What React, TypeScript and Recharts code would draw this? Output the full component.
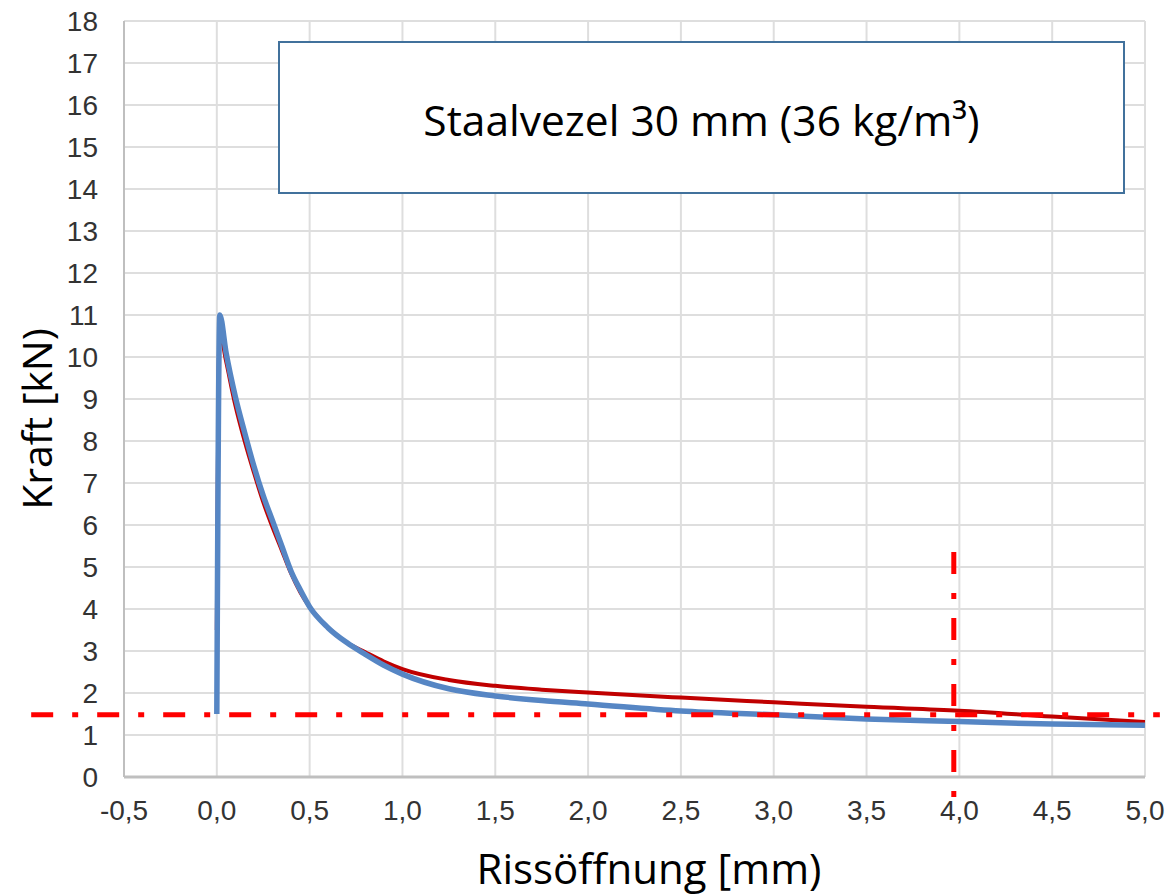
import {
  CartesianGrid,
  Line,
  LineChart,
  ReferenceLine,
  XAxis,
  YAxis,
} from 'recharts'

// red curve (lower peak, higher tail)
const redX = [0.0, 0.015, 0.05, 0.1, 0.15, 0.2, 0.25, 0.3, 0.35, 0.4, 0.45, 0.5, 0.6, 0.7, 0.8, 0.9, 1.0, 1.25, 1.5, 1.75, 2.0, 2.5, 3.0, 3.5, 4.0, 4.5, 5.0]
const redY = [3.5, 10.6, 9.9, 8.85, 8.0, 7.25, 6.55, 5.95, 5.4, 4.85, 4.4, 4.05, 3.55, 3.2, 2.97, 2.75, 2.57, 2.31, 2.17, 2.08, 2.01, 1.89, 1.78, 1.67, 1.58, 1.44, 1.31]

// blue curve
const blueX = [0.0, 0.016, 0.05, 0.1, 0.15, 0.2, 0.25, 0.3, 0.35, 0.4, 0.45, 0.5, 0.6, 0.7, 0.8, 0.9, 1.0, 1.25, 1.5, 1.75, 2.0, 2.5, 3.0, 3.5, 4.0, 4.5, 5.0]
const blueY = [1.5, 11.0, 10.1, 9.05, 8.2, 7.4, 6.7, 6.1, 5.5, 4.9, 4.45, 4.05, 3.55, 3.2, 2.92, 2.66, 2.45, 2.1, 1.93, 1.82, 1.74, 1.57, 1.48, 1.38, 1.32, 1.26, 1.23]

const xTicks = [-0.5, 0, 0.5, 1, 1.5, 2, 2.5, 3, 3.5, 4, 4.5, 5]
const yTicks = [0, 1, 2, 3, 4, 5, 6, 7, 8, 9, 10, 11, 12, 13, 14, 15, 16, 17, 18]

// dash-dot limit lines
const limitForce = 1.48
const limitForceFrom = -1.0
const limitForceTo = 5.08
const limitOpening = 3.97
const limitOpeningTop = 5.36
const limitOpeningBottom = -0.55

const redData = redX.map((x, i) => ({ x, y: redY[i] }))
const blueData = blueX.map((x, i) => ({ x, y: blueY[i] }))

const fmt = (v: number) => v.toFixed(1).replace('.', ',')

const tickStyle = { fontFamily: '"Liberation Sans", Arial, sans-serif', fontSize: 28, fill: '#333' }
const titleFont = '"Open Sans", sans-serif'
const dashDot = '22 19 6 19'

export default function App() {
  return (
    <div style={{ position: 'absolute', left: 0, top: 0, width: 1171, height: 896, background: '#fff' }}>
      <LineChart
        width={1171}
        height={896}
        margin={{ top: 21, right: 26, bottom: 59, left: 0 }}
      >
        <CartesianGrid stroke="#dedede" strokeWidth={2} />
        <XAxis
          dataKey="x"
          type="number"
          domain={[-0.5, 5]}
          ticks={xTicks}
          tickFormatter={fmt}
          height={60}
          stroke="#bfbfbf"
          strokeWidth={3}
          tickLine={false}
          tickSize={0}
          tickMargin={23}
          tick={tickStyle}
          allowDataOverflow
        />
        <YAxis
          type="number"
          domain={[0, 18]}
          ticks={yTicks}
          width={124}
          stroke="#bfbfbf"
          strokeWidth={2}
          tickLine={false}
          tickSize={0}
          tickMargin={26}
          tick={tickStyle}
          interval={0}
        />
        <Line
          data={redData}
          dataKey="y"
          type="monotone"
          stroke="#c00000"
          strokeWidth={4}
          dot={false}
          isAnimationActive={false}
        />
        <Line
          data={blueData}
          dataKey="y"
          type="monotone"
          stroke="#5686c4"
          strokeWidth={5.5}
          dot={false}
          isAnimationActive={false}
        />
        <ReferenceLine
          segment={[{ x: limitForceFrom, y: limitForce }, { x: limitForceTo, y: limitForce }]}
          stroke="#ff0000"
          strokeWidth={5}
          strokeDasharray={dashDot}
          ifOverflow="visible"
        />
        <ReferenceLine
          segment={[{ x: limitOpening, y: limitOpeningTop }, { x: limitOpening, y: limitOpeningBottom }]}
          stroke="#ff0000"
          strokeWidth={5}
          strokeDasharray={dashDot}
          ifOverflow="visible"
        />
      </LineChart>

      <div
        style={{
          position: 'absolute',
          left: 278,
          top: 41,
          width: 847,
          height: 153,
          boxSizing: 'border-box',
          border: '2px solid #41719c',
          background: '#fff',
          display: 'flex',
          alignItems: 'center',
          justifyContent: 'center',
          paddingTop: 4,
          fontFamily: titleFont,
          fontSize: 42.5,
          color: '#000',
        }}
      >
        Staalvezel 30 mm (36 kg/m³)
      </div>

      <div
        style={{
          position: 'absolute',
          left: 349,
          top: 840,
          width: 600,
          textAlign: 'center',
          fontFamily: titleFont,
          fontSize: 42,
          lineHeight: '56px',
          color: '#000',
        }}
      >
        Rissöffnung [mm)
      </div>

      <div
        style={{
          position: 'absolute',
          left: 36 - 150,
          top: 419 - 28,
          width: 300,
          textAlign: 'center',
          fontFamily: titleFont,
          fontSize: 41,
          lineHeight: '56px',
          color: '#000',
          transform: 'rotate(-90deg)',
          transformOrigin: '150px 28px',
        }}
      >
        Kraft [kN)
      </div>
    </div>
  )
}
